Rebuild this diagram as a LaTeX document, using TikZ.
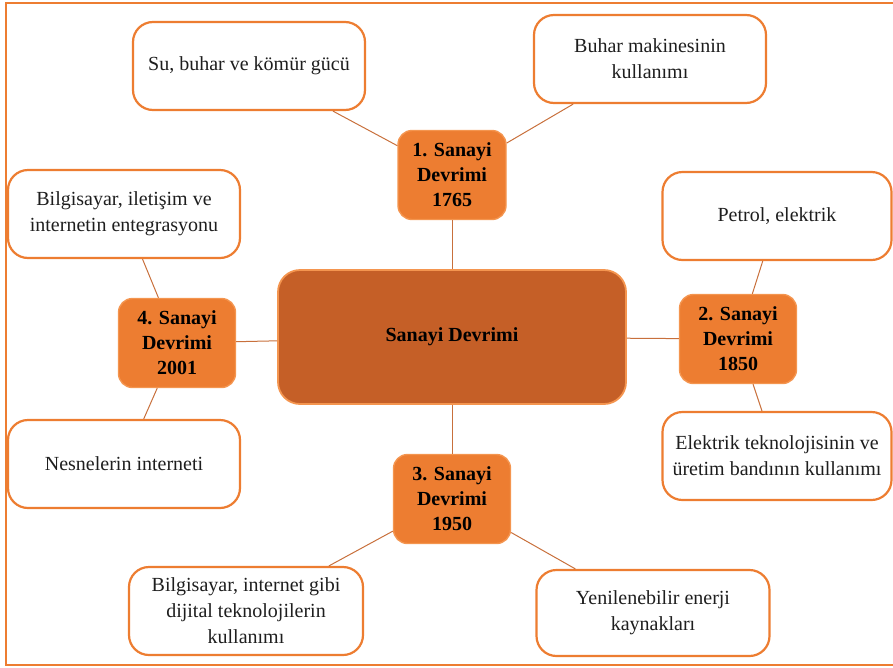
\documentclass[tikz,border=0pt]{standalone}
\usepackage{fontspec}
\setmainfont{Liberation Serif}
\usetikzlibrary{positioning}

\definecolor{accorange}{HTML}{ED7D31}
\definecolor{accdark}{HTML}{C55F27}
\definecolor{accedge}{HTML}{F4954F}
\definecolor{linkbrown}{HTML}{C8703C}
\definecolor{notetext}{HTML}{1E1E1E}

\begin{document}
\begin{tikzpicture}[
  x=1pt,
  y=-1pt,
  line width=1pt,
  every node/.style={font=\fontsize{20}{26}\selectfont},
  revbox/.style={
    draw,
    align=center,
    inner sep=0pt,
  },
  revbox main/.style={revbox, fill=accdark, draw=accedge, line width=1.8pt,
    rounded corners=22pt, minimum width=348, minimum height=134,
    font=\fontsize{20}{25}\selectfont\bfseries},
  revbox era/.style={revbox, fill=accorange, draw=accedge, line width=1.4pt,
    rounded corners=14pt, minimum width=117, minimum height=89,
    font=\fontsize{20}{25}\selectfont\bfseries},
  revbox note/.style={revbox, fill=white, draw=accorange, line width=2.2pt,
    rounded corners=20pt, minimum width=232, minimum height=88,
    text=notetext},
  revlink/.style={draw=linkbrown, line width=1pt},
]
\useasboundingbox (0,0) rectangle (893,667);
\draw[accorange, line width=2.2pt] (893,3) -- (6,3) -- (6,665) -- (893,665);

\node[revbox main] (S) at (452,337) {Sanayi Devrimi};

\node[revbox era, minimum width=108] (E1) at (452,175) {1. Sanayi\\Devrimi\\1765};
\node[revbox era] (E2) at (738,339) {2. Sanayi\\Devrimi\\1850};
\node[revbox era] (E3) at (452,499) {3. Sanayi\\Devrimi\\1950};
\node[revbox era] (E4) at (177,343) {4. Sanayi\\Devrimi\\2001};

\node[revbox note] (W1) at (249,66) {Su, buhar ve kömür gücü};
\node[revbox note] (W2) at (650,59) {Buhar makinesinin\\kullanımı};
\node[revbox note, minimum width=229] (W3) at (777,216) {Petrol, elektrik};
\node[revbox note, minimum width=229] (W4) at (777,456) {Elektrik teknolojisinin ve\\üretim bandının kullanımı};
\node[revbox note, minimum width=233, minimum height=86] (W5) at (653,613) {Yenilenebilir enerji\\kaynakları};
\node[revbox note, minimum width=234] (W6) at (246,611) {Bilgisayar, internet gibi\\dijital teknolojilerin\\kullanımı};
\node[revbox note] (W7) at (124,464) {Nesnelerin interneti};
\node[revbox note] (W8) at (124,214) {Bilgisayar, iletişim ve\\internetin entegrasyonu};

\draw[revlink] (S) -- (E1);
\draw[revlink] (S) -- (E2);
\draw[revlink] (S) -- (E3);
\draw[revlink] (S) -- (E4);
\draw[revlink] (E1) -- (W1);
\draw[revlink] (E1) -- (W2);
\draw[revlink] (E2) -- (W3);
\draw[revlink] (E2) -- (W4);
\draw[revlink] (E3) -- (W5);
\draw[revlink] (E3) -- (W6);
\draw[revlink] (E4) -- (W8);
\draw[revlink] (E4) -- (W7);
\end{tikzpicture}
\end{document}
